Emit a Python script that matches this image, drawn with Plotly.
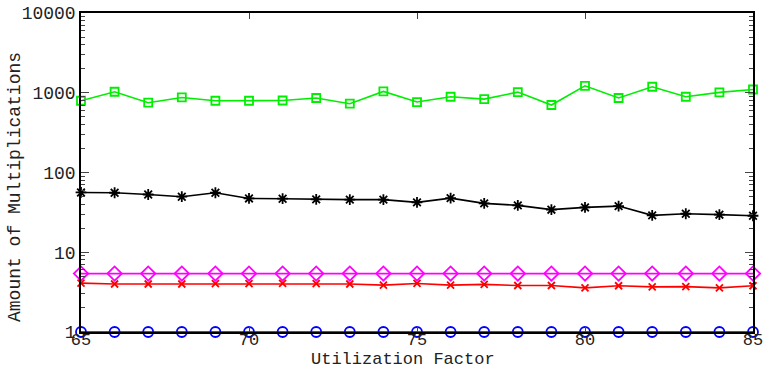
import plotly.graph_objects as go

x = list(range(65, 86))
blue = [1.0] * 21
red = [4.1, 4.0, 4.0, 4.0, 4.05, 4.05, 4.06, 4.03, 4.0, 3.87, 4.06, 3.87, 3.95,
       3.83, 3.83, 3.58, 3.8, 3.68, 3.71, 3.58, 3.8]
magenta = [5.4] * 21
black = [56.2, 55.7, 53.0, 49.7, 55.7, 47.3, 46.9, 46.0, 45.7, 45.7, 42.2, 47.7, 41.0,
         38.7, 34.2, 36.5, 37.9, 29.0, 30.4, 29.6, 28.7]
green = [794, 1029, 750, 873, 794, 794, 800, 859, 729, 1038, 765, 891, 832,
         1019, 702, 1223, 859, 1189, 891, 1010, 1099]

xticks = [65, 70, 75, 80, 85]
yticks = [1, 10, 100, 1000, 10000]
yticklabels = ["1", "10", "100", "1000", "10000"]
yminor = [m * d for d in [1, 10, 100, 1000] for m in range(2, 10)]
xtitle = "Utilization Factor"
ytitle = "Amount of Multiplications"

FONT = "Liberation Mono"

fig = go.Figure()
series = [
    (green, "#00ee00", "square-open", 8),
    (black, "#000000", "asterisk-open", 9),
    (magenta, "#ff00ff", "diamond-open", 11),
    (red, "#ff0000", "x-thin-open", 7),
    (blue, "#0000ff", "circle-open", 10),
]
for ys, c, sym, sz in series:
    fig.add_trace(go.Scatter(
        x=x, y=ys, mode="lines+markers",
        line=dict(color=c, width=1.6),
        marker=dict(symbol=sym, size=sz, color=c, line=dict(color=c, width=1.8)),
        cliponaxis=False, showlegend=False,
    ))

fig.update_layout(
    width=768, height=368,
    margin=dict(l=81, r=15, t=13, b=36),
    paper_bgcolor="white", plot_bgcolor="white",
    font=dict(family=FONT, size=17, color="#222"),
    annotations=[
        dict(text=xtitle, xref="paper", yref="paper", x=0.479, y=-0.0875,
             xanchor="center", yanchor="middle", showarrow=False,
             font=dict(size=17, family=FONT, color="#222")),
        dict(text=ytitle, xref="paper", yref="paper", x=-0.098, y=0.455,
             xanchor="center", yanchor="middle", showarrow=False, textangle=-90,
             font=dict(size=18, family=FONT, color="#222")),
    ],
)
fig.update_xaxes(
    range=[65, 85], tickvals=xticks, ticktext=[str(v) for v in xticks],
    ticks="inside", ticklen=6, tickcolor="#444", tickwidth=1,
    showline=True, linecolor="black", linewidth=1.5, mirror="ticks",
    showgrid=False, zeroline=False, automargin=False,
    tickfont=dict(size=17), ticklabelstandoff=-9,
)
fig.update_yaxes(
    type="log", range=[0, 4], tickvals=yticks, ticktext=yticklabels,
    ticks="inside", ticklen=8, tickcolor="#444", tickwidth=1,
    minor=dict(ticks="inside", ticklen=4, tickcolor="#444", showgrid=False,
               tickmode="array", tickvals=yminor),
    showline=True, linecolor="black", linewidth=1.5, mirror="ticks",
    showgrid=False, zeroline=False, automargin=False,
    tickfont=dict(size=18),
)

fig.write_html("out.html")
